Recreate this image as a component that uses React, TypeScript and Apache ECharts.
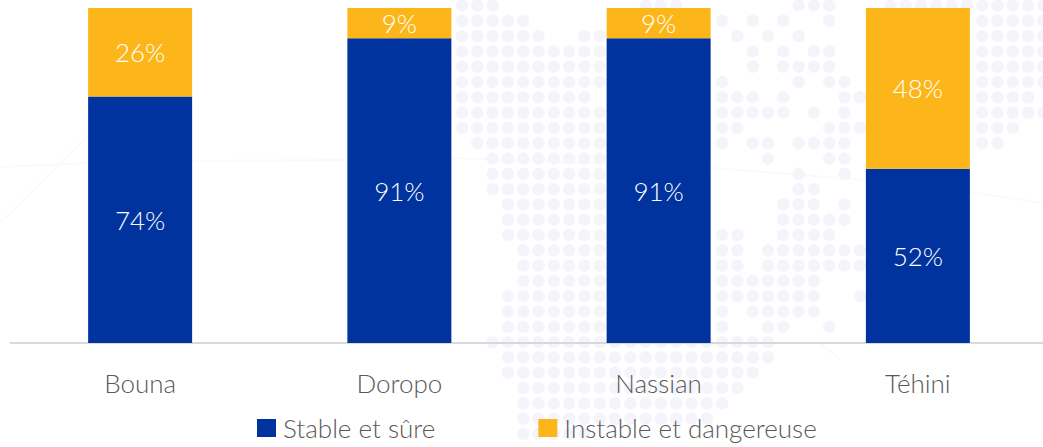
import React, { useEffect, useRef } from "react";
import * as echarts from "echarts";

const categories = ["Bouna", "Doropo", "Nassian", "Téhini"];
const stable = [73.6, 91, 91, 52];
const instable = [26.4, 9, 9, 48];
const seriesNames = ["Stable et sûre", "Instable et dangereuse"];
const colors = ["#00339E", "#FDB61A"];
const font = "'Lato Light', Lato";

// faint dotted world map behind the chart: column ranges per row
const mapRows: number[][][] = [
  [[0, 2], [12, 14], [22, 24], [28, 38]],
  [[0, 4], [17, 17], [19, 19], [21, 21], [24, 24], [34, 38]],
  [[0, 5], [8, 9], [18, 18], [20, 20], [22, 22], [34, 38]],
  [[0, 9], [19, 19], [21, 21], [23, 24], [34, 38]],
  [[0, 9], [19, 19], [21, 24], [34, 38]],
  [[0, 9], [17, 17], [22, 22], [24, 25], [34, 38]],
  [[0, 8], [17, 19], [21, 21], [25, 26], [34, 37]],
  [[0, 9], [17, 21], [23, 23], [25, 25], [34, 38]],
  [[0, 9], [17, 18], [24, 26], [34, 36]],
  [[1, 9], [17, 17], [19, 20], [22, 25], [34, 35]],
  [[2, 9], [20, 20], [24, 25]],
  [[2, 9], [22, 22], [25, 25]],
  [[2, 9], [22, 23]],
  [[3, 9], [21, 23], [25, 25]],
  [[3, 9], [21, 25]],
  [[3, 9], [17, 18], [21, 24]],
  [[4, 9], [17, 18], [20, 26]],
  [[4, 9], [17, 18], [20, 26]],
  [[4, 9], [17, 23]],
  [[3, 9], [17, 23], [26, 26]],
  [[3, 9], [17, 17], [19, 23]],
  [[3, 9], [17, 17], [20, 21], [24, 24]],
  [[2, 20]],
  [[3, 20]],
  [[3, 19]],
  [[4, 18]],
  [[4, 17]],
  [[4, 16]],
  [[4, 8]],
];
const mapLines = [
  [[0, 167], [88, 163], [192, 161], [348, 160], [452, 158], [711, 168], [866, 180], [970, 192], [1043, 203]],
  [[0, 223], [88, 135]],
  [[817, 340], [840, 360]],
];

export default function App() {
  const ref = useRef<HTMLDivElement>(null);
  useEffect(() => {
    const chart = echarts.init(ref.current!, null, { renderer: "svg" });
    const label = {
      show: true,
      position: "inside",
      formatter: (p: any) => `${Math.round(p.value)}%`,
      color: "#fff",
      fontFamily: font,
      fontWeight: 300,
      fontSize: 26,
    };
    const dots: any[] = [];
    mapRows.forEach((ranges, r) =>
      ranges.forEach(([a, b]) => {
        for (let c = a; c <= b; c++) {
          dots.push({
            type: "circle",
            silent: true,
            shape: { cx: 462 + 15.3 * c, cy: 5.5 + 15.3 * r, r: 6.2 },
            style: { fill: "#F4F4FA" },
          });
        }
      })
    );
    const lines = mapLines.map((points) => ({
      type: "polyline",
      silent: true,
      shape: { points },
      style: { stroke: "#FAFAFA", lineWidth: 2, fill: "none" },
    }));
    chart.setOption({
      animation: false,
      backgroundColor: "#fff",
      graphic: { elements: [...lines, ...dots] },
      grid: { left: 10.5, right: 0.5, top: 8, bottom: 104 },
      legend: {
        top: 415,
        left: 257,
        padding: 0,
        itemWidth: 19,
        itemHeight: 18,
        itemGap: 103,
        icon: "rect",
        textStyle: { fontFamily: font, fontWeight: 300, fontSize: 26, color: "#595959", padding: [0, 0, 0, 2] },
        data: seriesNames,
      },
      xAxis: {
        type: "category",
        data: categories,
        axisTick: { show: false },
        axisLine: { lineStyle: { color: "#D9D9D9", width: 2 } },
        axisLabel: { fontFamily: font, fontWeight: 300, fontSize: 26, color: "#595959", margin: 27 },
      },
      yAxis: { type: "value", min: 0, max: 100, show: false },
      series: [
        { name: seriesNames[0], type: "bar", stack: "a", data: stable, barWidth: 104, itemStyle: { color: colors[0] }, label },
        { name: seriesNames[1], type: "bar", stack: "a", data: instable, barWidth: 104, itemStyle: { color: colors[1] }, label },
      ],
    });
    return () => chart.dispose();
  }, []);
  return (
    <div style={{ position: "fixed", left: 0, top: 0, width: 1043, height: 447, overflow: "hidden" }}>
      <div ref={ref} style={{ width: 1048, height: 447 }} />
    </div>
  );
}
